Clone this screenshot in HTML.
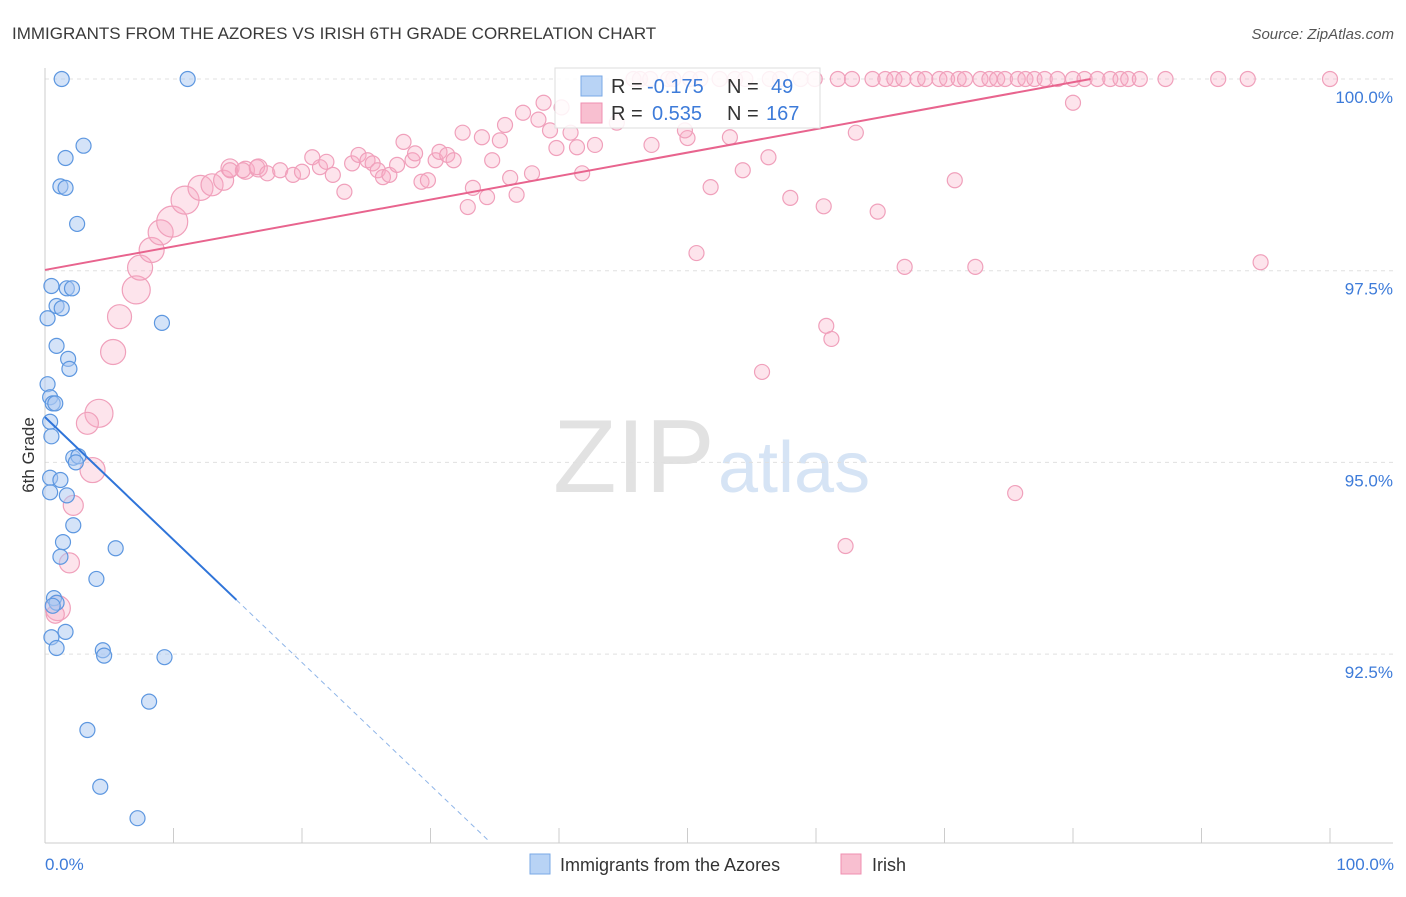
<!DOCTYPE html>
<html><head><meta charset="utf-8"><style>
body{margin:0;background:#fff;font-family:"Liberation Sans",sans-serif}
svg text{font-family:"Liberation Sans",sans-serif}
</style></head><body>
<svg id="chart" width="1406" height="892">
<text x="12" y="39" font-size="17" fill="#3a3a3a">IMMIGRANTS FROM THE AZORES VS IRISH 6TH GRADE CORRELATION CHART</text>
<text x="1394" y="39" font-size="15" fill="#555" font-style="italic" text-anchor="end">Source: ZipAtlas.com</text>
<g>
<text x="553" y="492" font-size="104" fill="#e2e2e2" font-family="Liberation Serif,serif">ZIP</text>
<text x="718" y="492" font-size="72" fill="#d6e4f5">atlas</text>
</g>
<g id="grid"></g>
<g id="axes"></g>
<g id="marks"></g>
<text transform="translate(34,455) rotate(-90)" font-size="17" fill="#333" text-anchor="middle">6th Grade</text>
<text x="45" y="870" font-size="17" fill="#3d7bd9">0.0%</text>
<text x="1394" y="870" font-size="17" fill="#3d7bd9" text-anchor="end">100.0%</text>
<g>
<rect x="555" y="68" width="265" height="60" fill="#fff" fill-opacity="0.85" stroke="#ddd"/>
<rect x="581" y="76" width="21" height="20" fill="#b8d3f5" stroke="#7aa8e6"/>
<text x="611" y="93" font-size="20" fill="#333">R = <tspan x="647" fill="#3d7bd9">-0.175</tspan><tspan x="727">N = </tspan><tspan x="771" fill="#3d7bd9">49</tspan></text>
<rect x="581" y="103" width="21" height="20" fill="#f8bfd0" stroke="#ef8fb0"/>
<text x="611" y="120" font-size="20" fill="#333">R = <tspan x="652" fill="#3d7bd9">0.535</tspan><tspan x="727">N = </tspan><tspan x="766" fill="#3d7bd9">167</tspan></text>
</g>
<g>
<rect x="530" y="854" width="20" height="20" fill="#b8d3f5" stroke="#7aa8e6"/>
<text x="560" y="871" font-size="18" fill="#333">Immigrants from the Azores</text>
<rect x="841" y="854" width="20" height="20" fill="#f8bfd0" stroke="#ef8fb0"/>
<text x="872" y="871" font-size="18" fill="#333">Irish</text>
</g>
</svg>
<script>
const yTicks=[100,97.5,95,92.5];
const yTickLabels=["100.0%","97.5%","95.0%","92.5%"];
const xTicks=[0,10,20,30,40,50,60,70,80,90,100];
const blueX=[1.3,11.1,3.0,1.6,1.2,1.6,2.5,0.5,1.7,2.1,0.9,1.3,0.2,9.1,0.9,1.8,1.9,0.2,0.4,0.6,0.8,0.4,0.5,2.2,2.6,2.4,0.4,1.2,1.7,0.4,2.2,1.4,5.5,1.2,4.0,0.7,0.9,0.6,1.6,0.5,0.9,4.5,4.6,9.3,8.1,3.3,4.3,7.2];
const blueY=[100,100,99.13,98.97,98.6,98.58,98.11,97.3,97.27,97.27,97.04,97.01,96.88,96.82,96.52,96.35,96.22,96.02,95.85,95.77,95.77,95.53,95.34,95.06,95.08,95.0,94.8,94.77,94.57,94.61,94.18,93.96,93.88,93.77,93.48,93.23,93.17,93.13,92.79,92.72,92.58,92.55,92.48,92.46,91.88,91.51,90.77,90.36];
const pinkX=[4.2,3.3,3.7,2.2,1.9,1.0,0.8,5.3,5.8,7.1,7.4,8.3,9.0,9.9,10.9,12.1,13.0,13.9,14.4,15.6,16.6,
14.4,15.4,16.5,17.3,18.3,19.3,20.0,20.8,21.4,21.9,22.4,23.3,23.9,24.4,25.1,25.5,25.9,26.3,26.8,27.4,27.9,28.6,28.8,29.3,29.8,30.4,30.7,31.3,31.8,32.5,33.3,32.9,34.0,34.4,34.8,35.4,35.8,36.2,36.7,37.2,37.9,38.4,38.8,39.3,39.8,40.2,40.9,41.4,41.8,42.8,44.5,47.2,50.0,51.8,53.3,54.3,49.8,56.3,63.1,70.8,80.0,58.0,60.6,64.8,50.7,66.9,72.4,94.6,60.8,61.2,55.8,75.5,62.3,
45.8,48.9,46.3,47.1,48.5,50.2,51.0,52.5,53.7,54.5,56.4,57.2,58.8,59.9,61.7,62.8,64.4,65.4,66.1,66.8,67.9,68.5,69.6,70.2,71.1,71.6,72.8,73.5,74.1,74.7,75.7,76.3,77.0,77.8,78.8,80.0,80.9,81.9,82.9,83.7,84.3,85.2,87.2,91.3,93.6,100];
const pinkY=[95.64,95.51,94.9,94.44,93.69,93.1,93.02,96.44,96.9,97.25,97.54,97.77,98.0,98.14,98.42,98.58,98.62,98.68,98.84,98.81,98.84,
98.81,98.81,98.85,98.77,98.81,98.75,98.79,98.98,98.85,98.92,98.75,98.53,98.9,99.01,98.94,98.9,98.81,98.72,98.75,98.88,99.18,98.94,99.03,98.66,98.68,98.94,99.05,99.01,98.94,99.3,98.58,98.33,99.24,98.46,98.94,99.2,99.4,98.71,98.49,99.56,98.77,99.47,99.69,99.33,99.1,99.63,99.3,99.11,98.77,99.14,99.43,99.14,99.23,98.59,99.24,98.81,99.33,98.98,99.3,98.68,99.69,98.45,98.34,98.27,97.73,97.55,97.55,97.61,96.78,96.61,96.18,94.6,93.91,
100,100,100,100,100,100,100,100,100,100,100,100,100,100,100,100,100,100,100,100,100,100,100,100,100,100,100,100,100,100,100,100,100,100,100,100,100,100,100,100,100,100,100,100,100,100];
const pinkWeight=[6.5,3.5,5,2.5,2.5,5,1.5,5,4.5,6.5,5,5,5,8,6.5,5,3.5,2.5,1.5,1.5,1.5];
const blueTrend=[95.59,-0.16];
const pinkTrend=[97.51,0.0306];
const NS="http://www.w3.org/2000/svg";
const X0=45,X1=1330,Y100=79,PXPER=76.68;
function sx(v){return X0+(X1-X0)*v/100;}
function sy(v){return Y100+(100-v)*PXPER;}
function mk(tag,attrs,parent){const e=document.createElementNS(NS,tag);for(const k in attrs)e.setAttribute(k,attrs[k]);parent.appendChild(e);return e;}
const grid=document.getElementById('grid'),axes=document.getElementById('axes'),marks=document.getElementById('marks');
yTicks.forEach((t,i)=>{
 const l=mk('line',{x1:45,x2:1393,y1:sy(t),y2:sy(t),stroke:'#e0e0e0','stroke-dasharray':'4,4'},grid);
 
 
 const tx=mk('text',{x:1393,y:sy(t)+24,'font-size':17,fill:'#3d7bd9','text-anchor':'end'},grid);
 tx.textContent=yTickLabels[i];
 
 
});
const ax=mk('line',{x1:45,x2:1393,y1:843,y2:843,stroke:'#ccc'},axes);


const ay=mk('line',{x1:45,x2:45,y1:68,y2:843,stroke:'#ccc'},axes);


xTicks.forEach(t=>{
 const l=mk('line',{x1:sx(t),x2:sx(t),y1:828,y2:843,stroke:'#ccc'},axes);
 
 
});
pinkX.forEach((x,i)=>{
 const r=7.5+(pinkWeight[i]||0);
 const c=mk('circle',{cx:sx(x),cy:sy(pinkY[i]),r:r,fill:'rgba(248,170,195,0.32)',stroke:'#f0a0bb','stroke-width':1.2},marks);
 
 
});
blueX.forEach((x,i)=>{
 const c=mk('circle',{cx:sx(x),cy:sy(blueY[i]),r:7.5,fill:'rgba(170,200,242,0.5)',stroke:'#5d97e0','stroke-width':1.2},marks);
 
 
});
const bEndSolid=14.9,bEndDash=34.6;
const b1=mk('line',{x1:sx(0),y1:sy(blueTrend[0]),x2:sx(bEndSolid),y2:sy(blueTrend[0]+blueTrend[1]*bEndSolid),stroke:'#2f74d9','stroke-width':2},marks);


const b2=mk('line',{x1:sx(bEndSolid),y1:sy(blueTrend[0]+blueTrend[1]*bEndSolid),x2:sx(bEndDash),y2:sy(blueTrend[0]+blueTrend[1]*bEndDash),stroke:'#8fb5e8','stroke-width':1,'stroke-dasharray':'5,4'},marks);


const pEnd=(100-pinkTrend[0])/pinkTrend[1];
const p1=mk('line',{x1:sx(0),y1:sy(pinkTrend[0]),x2:sx(pEnd),y2:sy(100),stroke:'#e8648e','stroke-width':2},marks);


</script>
</body></html>
